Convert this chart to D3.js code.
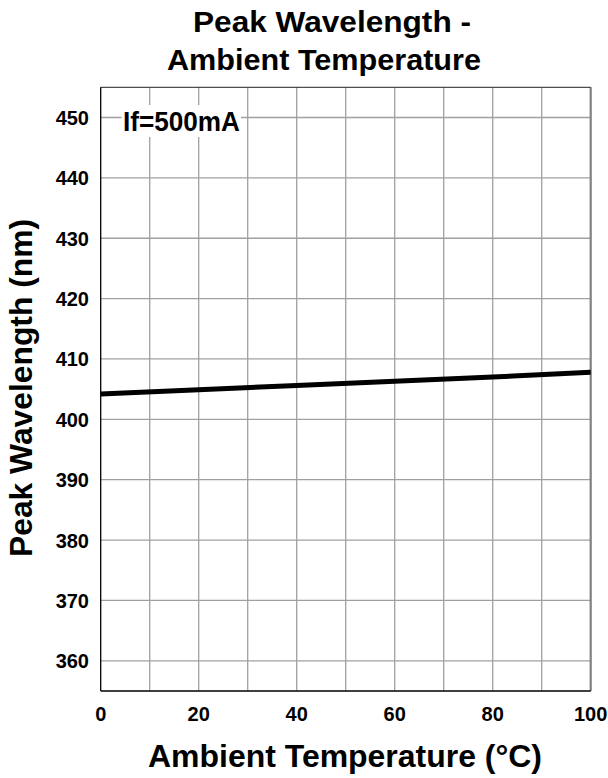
<!DOCTYPE html>
<html><head><meta charset="utf-8">
<script src="https://cdn.jsdelivr.net/npm/d3@7"></script>
<style>body{margin:0;background:#fff}svg{display:block}text{font-family:"Liberation Sans",Arial,sans-serif;font-weight:bold}</style>
</head><body><svg id="c" width="608" height="778"></svg>
<script>
const temps = [0, 20, 40, 60, 80, 100];
const wavelengths = [404.2, 404.9, 405.6, 406.3, 407.0, 407.8];
const xTicks = [0, 20, 40, 60, 80, 100];
const yTicks = [360, 370, 380, 390, 400, 410, 420, 430, 440, 450];
const xGrid = [10, 20, 30, 40, 50, 60, 70, 80, 90];

const svg = d3.select("#c");
const L = 100.7, R = 590.7, T = 87.3, B = 691;
const x = d3.scaleLinear().domain([0, 100]).range([L, R]);
const y = d3.scaleLinear().domain([355, 455]).range([B, T]);

// grid
svg.append("g").selectAll("line").data(xGrid).join("line")
  .attr("x1", d => x(d)).attr("x2", d => x(d)).attr("y1", T).attr("y2", B)
  .attr("stroke", "#a0a0a0").attr("stroke-width", 1.3);
svg.append("g").selectAll("line").data(yTicks).join("line")
  .attr("x1", L).attr("x2", R).attr("y1", d => y(d)).attr("y2", d => y(d))
  .attr("stroke", "#a0a0a0").attr("stroke-width", 1.3);

// borders
svg.append("line").attr("x1", R).attr("x2", R).attr("y1", T).attr("y2", B).attr("stroke", "#808080").attr("stroke-width", 2.2);
svg.append("line").attr("x1", L).attr("x2", R).attr("y1", T).attr("y2", T).attr("stroke", "#222").attr("stroke-width", 1);
svg.append("line").attr("x1", L).attr("x2", L).attr("y1", T).attr("y2", B).attr("stroke", "#000").attr("stroke-width", 1.3);
svg.append("line").attr("x1", L).attr("x2", R).attr("y1", B).attr("y2", B).attr("stroke", "#000").attr("stroke-width", 1.3);

// data line
svg.append("path").datum(temps.map((t, i) => [t, wavelengths[i]]))
  .attr("fill", "none").attr("stroke", "#000").attr("stroke-width", 5)
  .attr("d", d3.line().x(d => x(d[0])).y(d => y(d[1])));

// annotation
const ann = svg.append("g");
ann.append("rect").attr("x", 121.5).attr("y", 105).attr("width", 119.5).attr("height", 32).attr("fill", "#fff");
ann.append("text").attr("x", 123).attr("y", 131).attr("font-size", 27)
  .attr("textLength", 117).attr("lengthAdjust", "spacingAndGlyphs").text("If=500mA");

// tick labels
svg.append("g").selectAll("text").data(yTicks).join("text")
  .attr("x", 89).attr("y", d => y(d) + 7.5).attr("text-anchor", "end").attr("font-size", 20).text(d => d);
svg.append("g").selectAll("text").data(xTicks).join("text")
  .attr("x", d => x(d)).attr("y", 721).attr("text-anchor", "middle").attr("font-size", 20).text(d => d);

// titles
svg.append("text").attr("x", 193).attr("y", 32).attr("font-size", 29.5)
  .attr("textLength", 278).attr("lengthAdjust", "spacingAndGlyphs").text("Peak Wavelength -");
svg.append("text").attr("x", 167).attr("y", 70).attr("font-size", 29.5)
  .attr("textLength", 314).attr("lengthAdjust", "spacingAndGlyphs").text("Ambient Temperature");
svg.append("text").attr("x", 148).attr("y", 767).attr("font-size", 32)
  .attr("textLength", 394).attr("lengthAdjust", "spacingAndGlyphs").text("Ambient Temperature (°C)");
svg.append("text").attr("transform", "translate(32,557) rotate(-90)").attr("font-size", 31)
  .attr("textLength", 338).attr("lengthAdjust", "spacingAndGlyphs").text("Peak Wavelength (nm)");
</script></body></html>
